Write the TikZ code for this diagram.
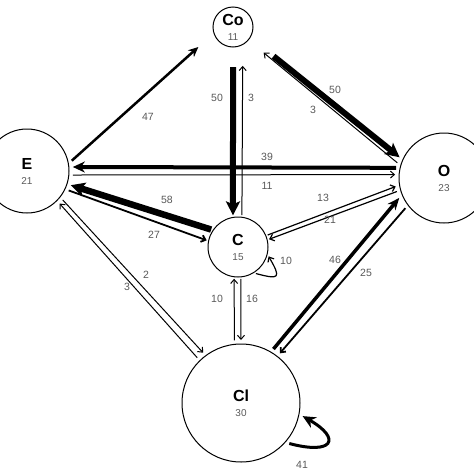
\documentclass[tikz,border=0pt]{standalone}
\usepackage{fontspec}
\setmainfont{Liberation Sans}
\usepackage{tikz}
\usetikzlibrary{arrows.meta}
\definecolor{numgray}{gray}{0.35}
\newcommand{\cnt}[1]{{\fontsize{10}{12}\selectfont\mdseries\color{numgray}#1}}
\tikzset{
  state/.style={draw, circle, line width=1pt, align=center, inner sep=0pt, outer sep=4pt, font=\fontsize{16}{15}\selectfont\bfseries},
  flowarrow/.style={-{Straight Barb[length=4pt,width=7pt]}, line width=1pt},
  heavyarrow/.style={-{Stealth[length=14pt,width=14pt,inset=3pt]}},
  num/.style={font=\fontsize{10.5}{12}\selectfont, text=numgray, inner sep=0pt}
}
\begin{document}
\begin{tikzpicture}[x=1pt,y=-1pt]
  \useasboundingbox (0,0) rectangle (474,474);
  \node[state, minimum size=40pt, outer sep=20pt] (Co) at (233,27) {Co\\\cnt{11}};
  \node[state, minimum size=84pt] (E) at (27,171) {E\\\cnt{21}};
  \node[state, minimum size=90pt] (O) at (444,178) {O\\\cnt{23}};
  \node[state, minimum size=60pt, outer sep=2pt] (C) at (238,247) {C\\\cnt{15}};
  \node[state, minimum size=118pt] (Cl) at (241,403) {Cl\\\cnt{30}};
  \draw[heavyarrow, line width=2.5pt, -{Stealth[length=10pt,width=9pt]}] (E.13) -- (Co.210);
  \draw[heavyarrow, line width=6pt] (Co.270) -- (C.99);
  \draw[flowarrow] (C.83) -- (Co.284);
  \draw[heavyarrow, line width=6pt, shorten <=10pt] (Co.325) -- (O.155);
  \draw[flowarrow] (O.162) -- (Co.320);
  \draw[heavyarrow, line width=4pt, -{Stealth[length=12pt,width=11pt]}] (O.168) -- (E.5);
  \draw[flowarrow] (E.355) -- (O.176);
  \draw[heavyarrow, line width=6.5pt] (C.147) -- (E.342);
  \draw[flowarrow, line width=1.8pt] (E.335) -- (C.168);
  \draw[flowarrow, line width=1.2pt] (C.22) -- (O.190);
  \draw[flowarrow, line width=1.2pt] (O.196) -- (C.14);
  \draw[flowarrow] (E.321) -- (Cl.127);
  \draw[flowarrow] (Cl.134) -- (E.315);
  \draw[flowarrow] (C.275) -- (Cl.90);
  \draw[flowarrow] (Cl.96) -- (C.263);
  \draw[heavyarrow, line width=3.5pt, -{Stealth[length=12pt,width=10pt]}] (Cl.59) -- (O.204);
  \draw[flowarrow, line width=1.8pt] (O.218) -- (Cl.52);
  \draw[flowarrow, line width=1.2pt] (C.304) to[out=-15, in=-60, looseness=3] (C.343);
  \draw[heavyarrow, line width=3pt, -{Stealth[length=13pt,width=12pt]}] (Cl.320) to[out=-15, in=-30, looseness=3.8] (Cl.348);
  \node[num] (n47) at (148,117) {47};
  \node[num] (n50a) at (335,90) {50};
  \node[num] (n3a) at (313,110) {3};
  \node[num] (n50b) at (217,98) {50};
  \node[num] (n3b) at (251,98) {3};
  \node[num] (n39) at (267,157) {39};
  \node[num] (n11) at (267,186) {11};
  \node[num] (n58) at (167,200) {58};
  \node[num] (n27) at (154,235) {27};
  \node[num] (n13) at (323,198) {13};
  \node[num] (n21) at (330,220) {21};
  \node[num] (n2) at (146,275) {2};
  \node[num] (n3c) at (127,287) {3};
  \node[num] (n10a) at (217,299) {10};
  \node[num] (n16) at (252,299) {16};
  \node[num] (n10b) at (286,261) {10};
  \node[num] (n46) at (335,260) {46};
  \node[num] (n25) at (366,273) {25};
  \node[num] (n41) at (302,465) {41};
\end{tikzpicture}
\end{document}
